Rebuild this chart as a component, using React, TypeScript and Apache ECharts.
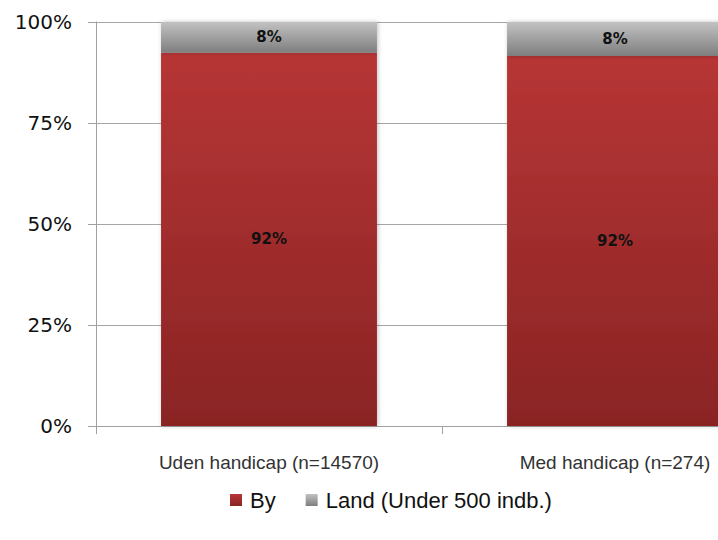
import React, { useEffect, useRef } from "react";
import * as echarts from "echarts";

const categories = ["Uden handicap (n=14570)", "Med handicap (n=274)"];
const byValues = [92.4, 91.6];
const landValues = [7.6, 8.4];
const seriesNames = ["By", "Land (Under 500 indb.)"];

export default function App() {
  const ref = useRef<HTMLDivElement>(null);
  useEffect(() => {
    if (!ref.current) return;
    const chart = echarts.init(ref.current, null, { renderer: "svg" });
    const redGrad = new echarts.graphic.LinearGradient(0, 0, 0, 1, [
      { offset: 0, color: "#b73535" },
      { offset: 1, color: "#8a2424" },
    ]);
    const grayGrad = new echarts.graphic.LinearGradient(0, 0, 0, 1, [
      { offset: 0, color: "#c2c2c2" },
      { offset: 1, color: "#7e7e7e" },
    ]);
    const labelStyle = {
      show: true,
      position: "inside" as const,
      color: "#111",
      fontWeight: "bold" as const,
      fontSize: 15,
      fontFamily: "DejaVu Sans",
      formatter: (p: any) => Math.round(p.value) + "%",
    };
    chart.setOption({
      animation: false,
      backgroundColor: "#fff",
      grid: {
        left: 96,
        top: 22,
        right: -70,
        bottom: 114,
        containLabel: false,
        outerBoundsMode: "none",
      },
      legend: {
        top: 484,
        left: 225,
        itemWidth: 12,
        itemHeight: 12,
        itemGap: 30,
        icon: "rect",
        textStyle: { fontSize: 22, color: "#111", fontFamily: "Liberation Sans", padding: [0, 0, 0, 3] },
        data: seriesNames,
      },
      xAxis: {
        type: "category",
        data: categories,
        axisLine: { show: true, lineStyle: { color: "#a0a0a0" } },
        axisTick: { show: true, length: 8, alignWithLabel: false, lineStyle: { color: "#a0a0a0" } },
        axisLabel: { color: "#333", fontSize: 19, margin: 27, fontFamily: "Liberation Sans" },
      },
      yAxis: {
        type: "value",
        min: 0,
        max: 100,
        interval: 25,
        axisLine: { show: true, lineStyle: { color: "#a0a0a0" } },
        axisTick: { show: true, length: 8, lineStyle: { color: "#a0a0a0" } },
        axisLabel: { formatter: "{value}%", color: "#111", fontSize: 20, margin: 24, fontFamily: "DejaVu Sans" },
        splitLine: { show: true, lineStyle: { color: "#a6a6a6" } },
      },
      series: [
        {
          name: seriesNames[0],
          type: "bar",
          stack: "total",
          barWidth: "62.4%",
          data: byValues,
          itemStyle: { color: redGrad, shadowBlur: 4, shadowColor: "rgba(0,0,0,0.25)", shadowOffsetX: 1 },
          label: labelStyle,
        },
        {
          name: seriesNames[1],
          type: "bar",
          stack: "total",
          barWidth: "62.4%",
          data: landValues,
          itemStyle: { color: grayGrad, shadowBlur: 4, shadowColor: "rgba(0,0,0,0.25)", shadowOffsetX: 1 },
          label: labelStyle,
        },
      ],
    });
    return () => chart.dispose();
  }, []);
  return (
    <div
      ref={ref}
      style={{ position: "fixed", left: 0, top: 0, width: 718, height: 540 }}
    />
  );
}
